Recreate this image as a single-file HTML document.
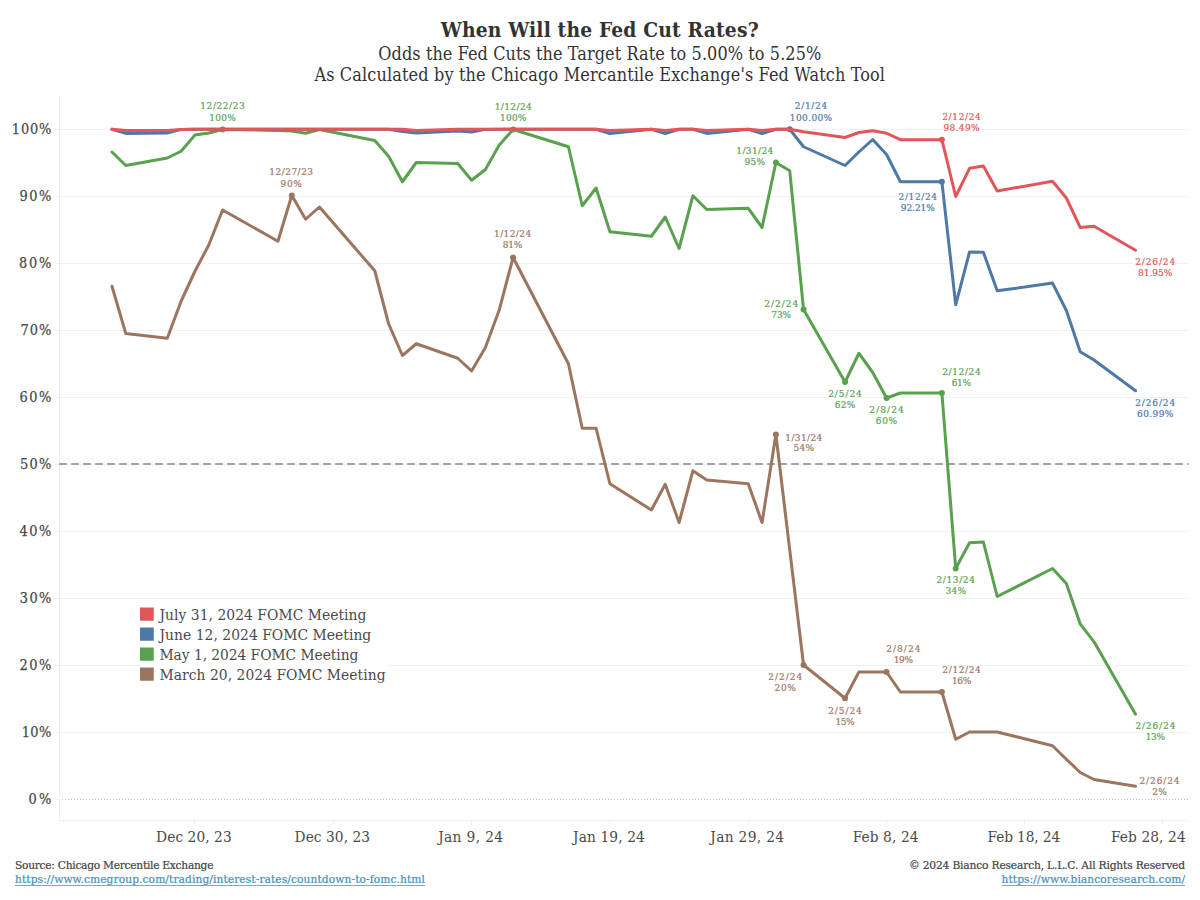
<!DOCTYPE html>
<html lang="en"><head><meta charset="utf-8"><title>When Will the Fed Cut Rates?</title>
<style>html,body{margin:0;padding:0;background:#fff;}svg{display:block;font-family:"DejaVu Serif Condensed", "DejaVu Serif", "Liberation Serif", serif;}</style>
</head><body>
<svg width="1200" height="900" viewBox="0 0 1200 900">
<rect x="0" y="0" width="1200" height="900" fill="#ffffff"/>
<text x="599.7" y="36.6" font-size="20.8" fill="#333333" text-anchor="middle" textLength="317.8" lengthAdjust="spacing" font-weight="bold">When Will the Fed Cut Rates?</text>
<text x="599.8" y="59.6" font-size="17.9" fill="#333333" text-anchor="middle" textLength="443" lengthAdjust="spacing">Odds the Fed Cuts the Target Rate to 5.00% to 5.25%</text>
<text x="599.7" y="80.7" font-size="17.9" fill="#333333" text-anchor="middle" textLength="570.6" lengthAdjust="spacing">As Calculated by the Chicago Mercantile Exchange's Fed Watch Tool</text>
<g stroke="#f2f2f2" stroke-width="1" fill="none" shape-rendering="crispEdges">
<line x1="59.5" y1="732.5" x2="1188.7" y2="732.5"/>
<line x1="59.5" y1="665.5" x2="1188.7" y2="665.5"/>
<line x1="59.5" y1="598.5" x2="1188.7" y2="598.5"/>
<line x1="59.5" y1="531.5" x2="1188.7" y2="531.5"/>
<line x1="59.5" y1="464.5" x2="1188.7" y2="464.5"/>
<line x1="59.5" y1="397.5" x2="1188.7" y2="397.5"/>
<line x1="59.5" y1="330.5" x2="1188.7" y2="330.5"/>
<line x1="59.5" y1="263.5" x2="1188.7" y2="263.5"/>
<line x1="59.5" y1="196.5" x2="1188.7" y2="196.5"/>
<line x1="59.5" y1="129.5" x2="1188.7" y2="129.5"/>
</g>
<g stroke="#efefef" stroke-width="1" fill="none" shape-rendering="crispEdges">
<line x1="59.5" y1="95" x2="59.5" y2="820.5"/>
<line x1="59.5" y1="820.5" x2="1188.7" y2="820.5"/>
<line x1="54.5" y1="799.5" x2="59.5" y2="799.5"/>
<line x1="54.5" y1="732.5" x2="59.5" y2="732.5"/>
<line x1="54.5" y1="665.5" x2="59.5" y2="665.5"/>
<line x1="54.5" y1="598.5" x2="59.5" y2="598.5"/>
<line x1="54.5" y1="531.5" x2="59.5" y2="531.5"/>
<line x1="54.5" y1="464.5" x2="59.5" y2="464.5"/>
<line x1="54.5" y1="397.5" x2="59.5" y2="397.5"/>
<line x1="54.5" y1="330.5" x2="59.5" y2="330.5"/>
<line x1="54.5" y1="263.5" x2="59.5" y2="263.5"/>
<line x1="54.5" y1="196.5" x2="59.5" y2="196.5"/>
<line x1="54.5" y1="129.5" x2="59.5" y2="129.5"/>
<line x1="194.5" y1="820.5" x2="194.5" y2="824.5"/>
<line x1="333.5" y1="820.5" x2="333.5" y2="824.5"/>
<line x1="471.5" y1="820.5" x2="471.5" y2="824.5"/>
<line x1="609.5" y1="820.5" x2="609.5" y2="824.5"/>
<line x1="748.5" y1="820.5" x2="748.5" y2="824.5"/>
<line x1="886.5" y1="820.5" x2="886.5" y2="824.5"/>
<line x1="1024.5" y1="820.5" x2="1024.5" y2="824.5"/>
<line x1="1162.5" y1="820.5" x2="1162.5" y2="824.5"/>
</g>
<g stroke="#f3f3f3" stroke-width="1" shape-rendering="crispEdges">
<line x1="73.5" y1="820.5" x2="73.5" y2="822.0"/>
<line x1="86.5" y1="820.5" x2="86.5" y2="822.0"/>
<line x1="100.5" y1="820.5" x2="100.5" y2="822.0"/>
<line x1="114.5" y1="820.5" x2="114.5" y2="822.0"/>
<line x1="128.5" y1="820.5" x2="128.5" y2="822.0"/>
<line x1="142.5" y1="820.5" x2="142.5" y2="822.0"/>
<line x1="156.5" y1="820.5" x2="156.5" y2="822.0"/>
<line x1="169.5" y1="820.5" x2="169.5" y2="822.0"/>
<line x1="183.5" y1="820.5" x2="183.5" y2="822.0"/>
<line x1="197.5" y1="820.5" x2="197.5" y2="822.0"/>
<line x1="211.5" y1="820.5" x2="211.5" y2="822.0"/>
<line x1="225.5" y1="820.5" x2="225.5" y2="822.0"/>
<line x1="238.5" y1="820.5" x2="238.5" y2="822.0"/>
<line x1="252.5" y1="820.5" x2="252.5" y2="822.0"/>
<line x1="266.5" y1="820.5" x2="266.5" y2="822.0"/>
<line x1="280.5" y1="820.5" x2="280.5" y2="822.0"/>
<line x1="294.5" y1="820.5" x2="294.5" y2="822.0"/>
<line x1="308.5" y1="820.5" x2="308.5" y2="822.0"/>
<line x1="321.5" y1="820.5" x2="321.5" y2="822.0"/>
<line x1="335.5" y1="820.5" x2="335.5" y2="822.0"/>
<line x1="349.5" y1="820.5" x2="349.5" y2="822.0"/>
<line x1="363.5" y1="820.5" x2="363.5" y2="822.0"/>
<line x1="377.5" y1="820.5" x2="377.5" y2="822.0"/>
<line x1="391.5" y1="820.5" x2="391.5" y2="822.0"/>
<line x1="404.5" y1="820.5" x2="404.5" y2="822.0"/>
<line x1="418.5" y1="820.5" x2="418.5" y2="822.0"/>
<line x1="432.5" y1="820.5" x2="432.5" y2="822.0"/>
<line x1="446.5" y1="820.5" x2="446.5" y2="822.0"/>
<line x1="460.5" y1="820.5" x2="460.5" y2="822.0"/>
<line x1="474.5" y1="820.5" x2="474.5" y2="822.0"/>
<line x1="487.5" y1="820.5" x2="487.5" y2="822.0"/>
<line x1="501.5" y1="820.5" x2="501.5" y2="822.0"/>
<line x1="515.5" y1="820.5" x2="515.5" y2="822.0"/>
<line x1="529.5" y1="820.5" x2="529.5" y2="822.0"/>
<line x1="543.5" y1="820.5" x2="543.5" y2="822.0"/>
<line x1="557.5" y1="820.5" x2="557.5" y2="822.0"/>
<line x1="570.5" y1="820.5" x2="570.5" y2="822.0"/>
<line x1="584.5" y1="820.5" x2="584.5" y2="822.0"/>
<line x1="598.5" y1="820.5" x2="598.5" y2="822.0"/>
<line x1="612.5" y1="820.5" x2="612.5" y2="822.0"/>
<line x1="626.5" y1="820.5" x2="626.5" y2="822.0"/>
<line x1="640.5" y1="820.5" x2="640.5" y2="822.0"/>
<line x1="653.5" y1="820.5" x2="653.5" y2="822.0"/>
<line x1="667.5" y1="820.5" x2="667.5" y2="822.0"/>
<line x1="681.5" y1="820.5" x2="681.5" y2="822.0"/>
<line x1="695.5" y1="820.5" x2="695.5" y2="822.0"/>
<line x1="709.5" y1="820.5" x2="709.5" y2="822.0"/>
<line x1="723.5" y1="820.5" x2="723.5" y2="822.0"/>
<line x1="736.5" y1="820.5" x2="736.5" y2="822.0"/>
<line x1="750.5" y1="820.5" x2="750.5" y2="822.0"/>
<line x1="764.5" y1="820.5" x2="764.5" y2="822.0"/>
<line x1="778.5" y1="820.5" x2="778.5" y2="822.0"/>
<line x1="792.5" y1="820.5" x2="792.5" y2="822.0"/>
<line x1="806.5" y1="820.5" x2="806.5" y2="822.0"/>
<line x1="819.5" y1="820.5" x2="819.5" y2="822.0"/>
<line x1="833.5" y1="820.5" x2="833.5" y2="822.0"/>
<line x1="847.5" y1="820.5" x2="847.5" y2="822.0"/>
<line x1="861.5" y1="820.5" x2="861.5" y2="822.0"/>
<line x1="875.5" y1="820.5" x2="875.5" y2="822.0"/>
<line x1="889.5" y1="820.5" x2="889.5" y2="822.0"/>
<line x1="902.5" y1="820.5" x2="902.5" y2="822.0"/>
<line x1="916.5" y1="820.5" x2="916.5" y2="822.0"/>
<line x1="930.5" y1="820.5" x2="930.5" y2="822.0"/>
<line x1="944.5" y1="820.5" x2="944.5" y2="822.0"/>
<line x1="958.5" y1="820.5" x2="958.5" y2="822.0"/>
<line x1="972.5" y1="820.5" x2="972.5" y2="822.0"/>
<line x1="985.5" y1="820.5" x2="985.5" y2="822.0"/>
<line x1="999.5" y1="820.5" x2="999.5" y2="822.0"/>
<line x1="1013.5" y1="820.5" x2="1013.5" y2="822.0"/>
<line x1="1027.5" y1="820.5" x2="1027.5" y2="822.0"/>
<line x1="1041.5" y1="820.5" x2="1041.5" y2="822.0"/>
<line x1="1055.5" y1="820.5" x2="1055.5" y2="822.0"/>
<line x1="1068.5" y1="820.5" x2="1068.5" y2="822.0"/>
<line x1="1082.5" y1="820.5" x2="1082.5" y2="822.0"/>
<line x1="1096.5" y1="820.5" x2="1096.5" y2="822.0"/>
<line x1="1110.5" y1="820.5" x2="1110.5" y2="822.0"/>
<line x1="1124.5" y1="820.5" x2="1124.5" y2="822.0"/>
<line x1="1138.5" y1="820.5" x2="1138.5" y2="822.0"/>
<line x1="1151.5" y1="820.5" x2="1151.5" y2="822.0"/>
<line x1="1165.5" y1="820.5" x2="1165.5" y2="822.0"/>
<line x1="1179.5" y1="820.5" x2="1179.5" y2="822.0"/>
</g>
<line x1="62" y1="799.5" x2="1188.7" y2="799.5" stroke="#c4c4c4" stroke-width="1" stroke-dasharray="1 2" shape-rendering="crispEdges"/>
<line x1="59.2" y1="464" x2="1188.7" y2="464" stroke="#a0a0a0" stroke-width="2" stroke-dasharray="7.6 4.4"/>
<text x="51.4" y="803.7" font-size="14.4" fill="#4a4a4a" text-anchor="end" textLength="22.9" lengthAdjust="spacing" stroke="#4a4a4a" stroke-width="0.25">0%</text>
<text x="51.4" y="736.7" font-size="14.4" fill="#4a4a4a" text-anchor="end" textLength="29.76" lengthAdjust="spacing" stroke="#4a4a4a" stroke-width="0.25">10%</text>
<text x="51.4" y="669.7" font-size="14.4" fill="#4a4a4a" text-anchor="end" textLength="31.84" lengthAdjust="spacing" stroke="#4a4a4a" stroke-width="0.25">20%</text>
<text x="51.4" y="602.7" font-size="14.4" fill="#4a4a4a" text-anchor="end" textLength="31.73" lengthAdjust="spacing" stroke="#4a4a4a" stroke-width="0.25">30%</text>
<text x="51.4" y="535.7" font-size="14.4" fill="#4a4a4a" text-anchor="end" textLength="31.94" lengthAdjust="spacing" stroke="#4a4a4a" stroke-width="0.25">40%</text>
<text x="51.4" y="468.7" font-size="14.4" fill="#4a4a4a" text-anchor="end" textLength="31.34" lengthAdjust="spacing" stroke="#4a4a4a" stroke-width="0.25">50%</text>
<text x="51.4" y="401.7" font-size="14.4" fill="#4a4a4a" text-anchor="end" textLength="31.95" lengthAdjust="spacing" stroke="#4a4a4a" stroke-width="0.25">60%</text>
<text x="51.4" y="334.7" font-size="14.4" fill="#4a4a4a" text-anchor="end" textLength="30.94" lengthAdjust="spacing" stroke="#4a4a4a" stroke-width="0.25">70%</text>
<text x="51.4" y="267.7" font-size="14.4" fill="#4a4a4a" text-anchor="end" textLength="32.43" lengthAdjust="spacing" stroke="#4a4a4a" stroke-width="0.25">80%</text>
<text x="51.4" y="200.7" font-size="14.4" fill="#4a4a4a" text-anchor="end" textLength="31.95" lengthAdjust="spacing" stroke="#4a4a4a" stroke-width="0.25">90%</text>
<text x="51.4" y="133.7" font-size="14.4" fill="#4a4a4a" text-anchor="end" textLength="39.58" lengthAdjust="spacing" stroke="#4a4a4a" stroke-width="0.25">100%</text>
<text x="193.9" y="842" font-size="15.3" fill="#4a4a4a" text-anchor="middle" textLength="75.58" lengthAdjust="spacing">Dec 20, 23</text>
<text x="332.3" y="842" font-size="15.3" fill="#4a4a4a" text-anchor="middle" textLength="75.47" lengthAdjust="spacing">Dec 30, 23</text>
<text x="470.6" y="842" font-size="15.3" fill="#4a4a4a" text-anchor="middle" textLength="64.88" lengthAdjust="spacing">Jan 9, 24</text>
<text x="608.9" y="842" font-size="15.3" fill="#4a4a4a" text-anchor="middle" textLength="71.74" lengthAdjust="spacing">Jan 19, 24</text>
<text x="747.2" y="842" font-size="15.3" fill="#4a4a4a" text-anchor="middle" textLength="73.82" lengthAdjust="spacing">Jan 29, 24</text>
<text x="885.6" y="842" font-size="15.3" fill="#4a4a4a" text-anchor="middle" textLength="65.84" lengthAdjust="spacing">Feb 8, 24</text>
<text x="1023.9" y="842" font-size="15.3" fill="#4a4a4a" text-anchor="middle" textLength="72.7" lengthAdjust="spacing">Feb 18, 24</text>
<text x="1185.7" y="842" font-size="15.3" fill="#4a4a4a" text-anchor="end" textLength="74.78" lengthAdjust="spacing">Feb 28, 24</text>
<rect x="139" y="603" width="247.5" height="82" fill="#ffffff"/>
<rect x="140" y="607.5" width="13.75" height="13.25" fill="#E15759"/>
<text x="159.5" y="620.0" font-size="15.4" fill="#4a4a4a" text-anchor="start" textLength="206.9" lengthAdjust="spacing">July 31, 2024 FOMC Meeting</text>
<rect x="140" y="627.5" width="13.75" height="13.25" fill="#4E79A7"/>
<text x="159.5" y="640.0" font-size="15.4" fill="#4a4a4a" text-anchor="start" textLength="211.73" lengthAdjust="spacing">June 12, 2024 FOMC Meeting</text>
<rect x="140" y="647.5" width="13.75" height="13.25" fill="#59A14F"/>
<text x="159.5" y="660.0" font-size="15.4" fill="#4a4a4a" text-anchor="start" textLength="198.88" lengthAdjust="spacing">May 1, 2024 FOMC Meeting</text>
<rect x="140" y="667.5" width="13.75" height="13.25" fill="#9C755F"/>
<text x="159.5" y="680.0" font-size="15.4" fill="#4a4a4a" text-anchor="start" textLength="226.02" lengthAdjust="spacing">March 20, 2024 FOMC Meeting</text>
<g id="series-brown">
<polyline points="111.96,286.25 125.79,333.5 167.29,338.3 181.12,301.25 194.95,271.25 208.78,245 222.61,210 277.94,241.25 291.77,195.5 305.61,219.25 319.44,207 374.77,270.75 388.6,323.75 402.43,355.5 416.26,343.75 457.76,358.25 471.59,371 485.42,347.5 499.25,310 513.09,257.5 568.41,363.75 582.25,428.25 596.08,428.25 609.91,483.75 651.41,510 665.24,484.25 679.07,522.5 692.9,470.75 706.73,480 748.23,483.75 762.06,522.5 775.89,434.5 803.56,665 845.05,698.25 858.89,672 872.72,672 886.55,672 900.38,692 941.88,692 955.71,739.25 969.54,732 983.37,732 997.21,732 1052.53,745.7 1066.37,759.2 1080.2,772.5 1094.03,779.5 1135.53,786.2" fill="none" stroke="#9C755F" stroke-width="3.0" stroke-linejoin="round" stroke-linecap="round"/>
<circle cx="291.77" cy="195.5" r="3.0" fill="#9C755F"/>
<circle cx="513.09" cy="257.5" r="3.0" fill="#9C755F"/>
<circle cx="775.89" cy="434.5" r="3.0" fill="#9C755F"/>
<circle cx="803.56" cy="665" r="3.0" fill="#9C755F"/>
<circle cx="845.05" cy="698.25" r="3.0" fill="#9C755F"/>
<circle cx="886.55" cy="672" r="3.0" fill="#9C755F"/>
<circle cx="941.88" cy="692" r="3.0" fill="#9C755F"/>
</g>
<g id="series-green">
<polyline points="111.96,152 125.79,165.5 167.29,158 181.12,151.25 194.95,135 208.78,133 222.61,129.5 277.94,130.5 291.77,131 305.61,133.25 319.44,129.5 374.77,140.5 388.6,156.25 402.43,181.75 416.26,162.5 457.76,163.5 471.59,180.25 485.42,169.5 499.25,145 513.09,129.5 568.41,146.75 582.25,205.75 596.08,188 609.91,231.75 651.41,236.25 665.24,217 679.07,248.5 692.9,195.75 706.73,209.5 748.23,208.25 762.06,227.5 775.89,162.5 789.73,170.75 803.56,309.5 845.05,382 858.89,353.25 872.72,372.5 886.55,398 900.38,393 941.88,393 955.71,568.5 969.54,542.7 983.37,542 997.21,596.5 1052.53,568.5 1066.37,583.5 1080.2,623.9 1094.03,641.8 1135.53,714.2" fill="none" stroke="#59A14F" stroke-width="3.0" stroke-linejoin="round" stroke-linecap="round"/>
<circle cx="222.61" cy="129.5" r="3.0" fill="#59A14F"/>
<circle cx="513.09" cy="129.5" r="3.0" fill="#59A14F"/>
<circle cx="775.89" cy="162.5" r="3.0" fill="#59A14F"/>
<circle cx="803.56" cy="309.5" r="3.0" fill="#59A14F"/>
<circle cx="845.05" cy="382" r="3.0" fill="#59A14F"/>
<circle cx="886.55" cy="398" r="3.0" fill="#59A14F"/>
<circle cx="941.88" cy="393" r="3.0" fill="#59A14F"/>
<circle cx="955.71" cy="568.5" r="3.0" fill="#59A14F"/>
</g>
<g id="series-blue">
<polyline points="111.96,129.3 125.79,133.4 167.29,133 181.12,129.4 194.95,129.3 208.78,129.3 222.61,129.3 277.94,129.3 291.77,129.3 305.61,129.3 319.44,129.3 374.77,129.3 388.6,129.3 402.43,131.5 416.26,133 457.76,131 471.59,132 485.42,129.4 499.25,129.3 513.09,129.3 568.41,129.3 582.25,129.3 596.08,129.3 609.91,133.6 651.41,129.3 665.24,133.6 679.07,129.3 692.9,129.3 706.73,133.4 748.23,129.3 762.06,133.6 775.89,129.3 789.73,129.3 803.56,146.75 845.05,165.5 858.89,152 872.72,139.5 886.55,154.5 900.38,181.7 941.88,181.7 955.71,304.8 969.54,251.9 983.37,252.3 997.21,290.8 1052.53,283.1 1066.37,310.5 1080.2,351.75 1094.03,360 1135.53,390.75" fill="none" stroke="#4E79A7" stroke-width="3.0" stroke-linejoin="round" stroke-linecap="round"/>
<circle cx="789.73" cy="129.3" r="3.0" fill="#4E79A7"/>
<circle cx="941.88" cy="181.7" r="3.0" fill="#4E79A7"/>
</g>
<g id="series-red">
<polyline points="111.96,129.3 125.79,130.6 167.29,130.6 181.12,129.4 194.95,129.3 208.78,129.3 222.61,129.3 277.94,129.3 291.77,129.3 305.61,129.3 319.44,129.3 374.77,129.3 388.6,129.3 402.43,129.3 416.26,130.4 457.76,129.3 471.59,129.3 485.42,129.3 499.25,129.3 513.09,129.3 568.41,129.3 582.25,129.3 596.08,129.3 609.91,130.6 651.41,129.3 665.24,130.6 679.07,129.3 692.9,129.3 706.73,130.5 748.23,129.3 762.06,130.6 775.89,129.3 789.73,129.3 803.56,131.75 845.05,137.5 858.89,132.5 872.72,130.75 886.55,133.25 900.38,139.7 941.88,139.7 955.71,196.5 969.54,168.3 983.37,166 997.21,191 1052.53,181.2 1066.37,198 1080.2,227.4 1094.03,226.2 1135.53,250.3" fill="none" stroke="#E15759" stroke-width="3.0" stroke-linejoin="round" stroke-linecap="round"/>
<circle cx="941.88" cy="139.7" r="3.0" fill="#E15759"/>
</g>
<g id="labels">
<text x="222.5" y="109.4" font-size="10.0" fill="#59A14F" text-anchor="middle" textLength="44.32" lengthAdjust="spacing" stroke="#59A14F" stroke-width="0.2">12/22/23</text>
<text x="222.5" y="120.7" font-size="10.0" fill="#59A14F" text-anchor="middle" textLength="26.39" lengthAdjust="spacing" stroke="#59A14F" stroke-width="0.2">100%</text>
<text x="291.2" y="175.4" font-size="10.0" fill="#9C755F" text-anchor="middle" textLength="43.72" lengthAdjust="spacing" stroke="#9C755F" stroke-width="0.2">12/27/23</text>
<text x="291.2" y="187.2" font-size="10.0" fill="#9C755F" text-anchor="middle" textLength="21.3" lengthAdjust="spacing" stroke="#9C755F" stroke-width="0.2">90%</text>
<text x="513.2" y="109.6" font-size="10.0" fill="#59A14F" text-anchor="middle" textLength="37.11" lengthAdjust="spacing" stroke="#59A14F" stroke-width="0.2">1/12/24</text>
<text x="513.2" y="120.9" font-size="10.0" fill="#59A14F" text-anchor="middle" textLength="26.39" lengthAdjust="spacing" stroke="#59A14F" stroke-width="0.2">100%</text>
<text x="512.6" y="236.9" font-size="10.0" fill="#9C755F" text-anchor="middle" textLength="37.11" lengthAdjust="spacing" stroke="#9C755F" stroke-width="0.2">1/12/24</text>
<text x="512.6" y="247.9" font-size="10.0" fill="#9C755F" text-anchor="middle" textLength="19.65" lengthAdjust="spacing" stroke="#9C755F" stroke-width="0.2">81%</text>
<text x="754.8" y="154.1" font-size="10.0" fill="#59A14F" text-anchor="middle" textLength="37.04" lengthAdjust="spacing" stroke="#59A14F" stroke-width="0.2">1/31/24</text>
<text x="754.8" y="165.1" font-size="10.0" fill="#59A14F" text-anchor="middle" textLength="20.38" lengthAdjust="spacing" stroke="#59A14F" stroke-width="0.2">95%</text>
<text x="811.0" y="109.4" font-size="10.0" fill="#4E79A7" text-anchor="middle" textLength="32.53" lengthAdjust="spacing" stroke="#4E79A7" stroke-width="0.2">2/1/24</text>
<text x="811.0" y="120.9" font-size="10.0" fill="#4E79A7" text-anchor="middle" textLength="42.37" lengthAdjust="spacing" stroke="#4E79A7" stroke-width="0.2">100.00%</text>
<text x="961.5" y="119.9" font-size="10.0" fill="#E15759" text-anchor="middle" textLength="38.5" lengthAdjust="spacing" stroke="#E15759" stroke-width="0.2">2/12/24</text>
<text x="961.5" y="131.4" font-size="10.0" fill="#E15759" text-anchor="middle" textLength="36.05" lengthAdjust="spacing" stroke="#E15759" stroke-width="0.2">98.49%</text>
<text x="917.8" y="199.7" font-size="10.0" fill="#4E79A7" text-anchor="middle" textLength="38.5" lengthAdjust="spacing" stroke="#4E79A7" stroke-width="0.2">2/12/24</text>
<text x="917.8" y="210.9" font-size="10.0" fill="#4E79A7" text-anchor="middle" textLength="34.13" lengthAdjust="spacing" stroke="#4E79A7" stroke-width="0.2">92.21%</text>
<text x="1155.2" y="264.9" font-size="10.0" fill="#E15759" text-anchor="middle" textLength="39.96" lengthAdjust="spacing" stroke="#E15759" stroke-width="0.2">2/26/24</text>
<text x="1155.2" y="275.8" font-size="10.0" fill="#E15759" text-anchor="middle" textLength="34.2" lengthAdjust="spacing" stroke="#E15759" stroke-width="0.2">81.95%</text>
<text x="781.2" y="307.1" font-size="10.0" fill="#59A14F" text-anchor="middle" textLength="33.92" lengthAdjust="spacing" stroke="#59A14F" stroke-width="0.2">2/2/24</text>
<text x="781.2" y="318.0" font-size="10.0" fill="#59A14F" text-anchor="middle" textLength="19.97" lengthAdjust="spacing" stroke="#59A14F" stroke-width="0.2">73%</text>
<text x="845.0" y="397.1" font-size="10.0" fill="#59A14F" text-anchor="middle" textLength="33.59" lengthAdjust="spacing" stroke="#59A14F" stroke-width="0.2">2/5/24</text>
<text x="845.0" y="408.0" font-size="10.0" fill="#59A14F" text-anchor="middle" textLength="20.72" lengthAdjust="spacing" stroke="#59A14F" stroke-width="0.2">62%</text>
<text x="886.5" y="412.7" font-size="10.0" fill="#59A14F" text-anchor="middle" textLength="34.32" lengthAdjust="spacing" stroke="#59A14F" stroke-width="0.2">2/8/24</text>
<text x="886.5" y="423.7" font-size="10.0" fill="#59A14F" text-anchor="middle" textLength="21.3" lengthAdjust="spacing" stroke="#59A14F" stroke-width="0.2">60%</text>
<text x="961.4" y="374.6" font-size="10.0" fill="#59A14F" text-anchor="middle" textLength="38.5" lengthAdjust="spacing" stroke="#59A14F" stroke-width="0.2">2/12/24</text>
<text x="961.4" y="385.6" font-size="10.0" fill="#59A14F" text-anchor="middle" textLength="19.33" lengthAdjust="spacing" stroke="#59A14F" stroke-width="0.2">61%</text>
<text x="1155.2" y="405.9" font-size="10.0" fill="#4E79A7" text-anchor="middle" textLength="39.96" lengthAdjust="spacing" stroke="#4E79A7" stroke-width="0.2">2/26/24</text>
<text x="1155.2" y="416.8" font-size="10.0" fill="#4E79A7" text-anchor="middle" textLength="36.26" lengthAdjust="spacing" stroke="#4E79A7" stroke-width="0.2">60.99%</text>
<text x="803.8" y="440.7" font-size="10.0" fill="#9C755F" text-anchor="middle" textLength="37.04" lengthAdjust="spacing" stroke="#9C755F" stroke-width="0.2">1/31/24</text>
<text x="803.8" y="451.4" font-size="10.0" fill="#9C755F" text-anchor="middle" textLength="20.37" lengthAdjust="spacing" stroke="#9C755F" stroke-width="0.2">54%</text>
<text x="955.7" y="582.7" font-size="10.0" fill="#59A14F" text-anchor="middle" textLength="38.42" lengthAdjust="spacing" stroke="#59A14F" stroke-width="0.2">2/13/24</text>
<text x="955.7" y="594.2" font-size="10.0" fill="#59A14F" text-anchor="middle" textLength="20.63" lengthAdjust="spacing" stroke="#59A14F" stroke-width="0.2">34%</text>
<text x="785.2" y="679.9" font-size="10.0" fill="#9C755F" text-anchor="middle" textLength="33.92" lengthAdjust="spacing" stroke="#9C755F" stroke-width="0.2">2/2/24</text>
<text x="785.2" y="691.0" font-size="10.0" fill="#9C755F" text-anchor="middle" textLength="21.23" lengthAdjust="spacing" stroke="#9C755F" stroke-width="0.2">20%</text>
<text x="845.0" y="713.7" font-size="10.0" fill="#9C755F" text-anchor="middle" textLength="33.59" lengthAdjust="spacing" stroke="#9C755F" stroke-width="0.2">2/5/24</text>
<text x="845.0" y="724.9" font-size="10.0" fill="#9C755F" text-anchor="middle" textLength="18.92" lengthAdjust="spacing" stroke="#9C755F" stroke-width="0.2">15%</text>
<text x="903.3" y="652.4" font-size="10.0" fill="#9C755F" text-anchor="middle" textLength="34.32" lengthAdjust="spacing" stroke="#9C755F" stroke-width="0.2">2/8/24</text>
<text x="903.3" y="663.4" font-size="10.0" fill="#9C755F" text-anchor="middle" textLength="19.33" lengthAdjust="spacing" stroke="#9C755F" stroke-width="0.2">19%</text>
<text x="961.6" y="672.9" font-size="10.0" fill="#9C755F" text-anchor="middle" textLength="38.5" lengthAdjust="spacing" stroke="#9C755F" stroke-width="0.2">2/12/24</text>
<text x="961.6" y="683.8" font-size="10.0" fill="#9C755F" text-anchor="middle" textLength="19.33" lengthAdjust="spacing" stroke="#9C755F" stroke-width="0.2">16%</text>
<text x="1155.4" y="729.1" font-size="10.0" fill="#59A14F" text-anchor="middle" textLength="39.96" lengthAdjust="spacing" stroke="#59A14F" stroke-width="0.2">2/26/24</text>
<text x="1155.4" y="740.0" font-size="10.0" fill="#59A14F" text-anchor="middle" textLength="19.18" lengthAdjust="spacing" stroke="#59A14F" stroke-width="0.2">13%</text>
<text x="1159.5" y="784.2" font-size="10.0" fill="#9C755F" text-anchor="middle" textLength="39.96" lengthAdjust="spacing" stroke="#9C755F" stroke-width="0.2">2/26/24</text>
<text x="1159.5" y="795.0" font-size="10.0" fill="#9C755F" text-anchor="middle" textLength="14.68" lengthAdjust="spacing" stroke="#9C755F" stroke-width="0.2">2%</text>
</g>
<text x="15" y="869.4" font-size="11.9" fill="#444444" text-anchor="start" textLength="198.5" lengthAdjust="spacing" stroke="#444444" stroke-width="0.2">Source: Chicago Mercentile Exchange</text>
<text x="15" y="883.3" font-size="11.9" fill="#4a8fb5" text-anchor="start" textLength="410" lengthAdjust="spacing" stroke="#4a8fb5" stroke-width="0.2">https://www.cmegroup.com/trading/interest-rates/countdown-to-fomc.html</text>
<line x1="15" y1="885.5" x2="425" y2="885.5" stroke="#4a8fb5" stroke-opacity="0.75" stroke-width="1" shape-rendering="crispEdges"/>
<text x="1185" y="869.4" font-size="11.9" fill="#444444" text-anchor="end" textLength="276" lengthAdjust="spacing" stroke="#444444" stroke-width="0.2">© 2024 Bianco Research, L.L.C. All Rights Reserved</text>
<text x="1185" y="883.3" font-size="11.9" fill="#4a8fb5" text-anchor="end" textLength="183.5" lengthAdjust="spacing" stroke="#4a8fb5" stroke-width="0.2">https://www.biancoresearch.com/</text>
<line x1="1001.5" y1="885.5" x2="1185" y2="885.5" stroke="#4a8fb5" stroke-opacity="0.75" stroke-width="1" shape-rendering="crispEdges"/>
</svg>
</body></html>
